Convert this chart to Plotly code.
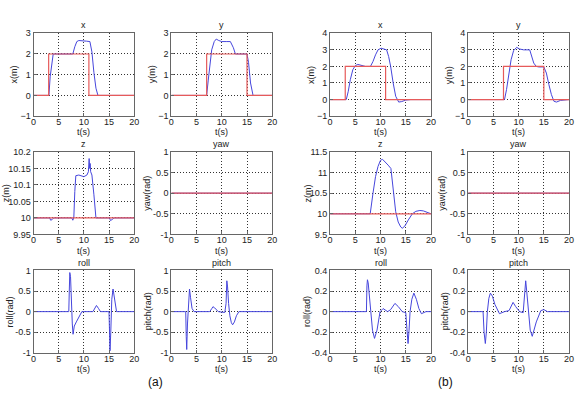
import plotly.graph_objects as go

W, H = 579, 400

# ---------------- data ----------------
# (a) x
a_x_t = [0, 3.05, 3.3, 3.6, 3.9, 4.3, 7.8, 8.2, 8.6, 9.0, 9.9, 10.5, 11.2, 11.6, 12.0, 12.4, 12.8, 20]
a_x_v = [0, 0, 0.9, 1.6, 2.0, 2.0, 2.0, 2.35, 2.6, 2.65, 2.65, 2.62, 2.6, 2.1, 1.1, 0.35, 0, 0]
a_x_ref_t = [0, 3, 3, 11, 11, 20]
a_x_ref_v = [0, 0, 2, 2, 0, 0]
# (a) y
a_y_t = [0, 7.0, 7.3, 7.6, 8.0, 8.5, 8.9, 9.4, 10, 11, 11.7, 12.3, 12.7, 15.0, 15.3, 15.7, 16.2, 20]
a_y_v = [0, 0, 0.7, 1.5, 2.2, 2.6, 2.72, 2.65, 2.6, 2.6, 2.6, 2.3, 2.0, 2.0, 1.6, 0.6, 0, 0]
a_y_ref_t = [0, 7, 7, 15, 15, 20]
a_y_ref_v = [0, 0, 2, 2, 0, 0]
# (a) z
a_z_t = [0, 3.2, 3.4, 3.7, 4.0, 7.6, 7.8, 8.0, 8.2, 8.4, 9, 10, 10.6, 10.9, 11.05, 11.15, 11.25, 11.35, 11.45, 11.6, 12.0, 12.4, 15.1, 15.3, 15.6, 16.0, 20]
a_z_v = [10, 10, 9.993, 9.995, 10, 10, 9.993, 10.0, 10.08, 10.128, 10.13, 10.125, 10.13, 10.14, 10.18, 10.15, 10.165, 10.14, 10.135, 10.13, 10.07, 10, 10, 9.992, 9.995, 10, 10]
a_z_ref_t = [0, 20]
a_z_ref_v = [10, 10]
# (a) yaw
a_yaw_t = [0, 20]
a_yaw_v = [0, 0]
a_yaw_ref_t = [0, 20]
a_yaw_ref_v = [0, 0]
# (a) roll
a_roll_t = [0, 7.0, 7.1, 7.2, 7.35, 7.5, 7.7, 7.85, 8.1, 8.5, 9.0, 9.6, 11.8, 12.2, 12.5, 12.9, 13.3, 15.0, 15.1, 15.2, 15.35, 15.55, 15.8, 16.1, 16.5, 20]
a_roll_v = [0, 0, 0.5, 0.95, 0.85, 0.2, -0.3, -0.55, -0.35, -0.25, -0.12, 0, 0, 0.1, 0.15, 0.08, 0, 0, -0.4, -0.95, -0.5, 0.3, 0.55, 0.3, 0, 0]
# (a) pitch
a_pitch_t = [0, 2.85, 2.95, 3.05, 3.2, 3.4, 3.6, 3.8, 4.1, 4.5, 7.6, 8.0, 8.25, 8.6, 9.0, 9.3, 10.6, 10.85, 11.0, 11.15, 11.35, 11.6, 11.9, 12.15, 12.5, 12.9, 13.4, 20]
a_pitch_v = [0, 0, -0.6, -0.92, -0.3, 0.35, 0.55, 0.35, 0.08, 0, 0, 0.07, 0.12, 0.09, 0.03, 0, -0.02, 0.2, 0.75, 0.6, 0.2, -0.1, -0.27, -0.32, -0.25, -0.1, 0, 0]

# (b) x
b_x_t = [0, 3.2, 3.6, 4.0, 4.5, 5.0, 5.5, 6.2, 7.0, 8.0, 8.5, 9.0, 9.5, 10.1, 10.6, 11.2, 11.6, 12.0, 12.5, 13.0, 13.6, 14.2, 15.0, 16, 20]
b_x_v = [0, 0, 0.5, 1.2, 1.8, 2.05, 2.12, 2.05, 2.0, 2.0, 2.3, 2.7, 3.0, 3.1, 3.05, 3.0, 2.6, 2.0, 1.0, 0.2, -0.15, -0.12, -0.03, 0, 0]
b_x_ref_t = [0, 3, 3, 11, 11, 20]
b_x_ref_v = [0, 0, 2, 2, 0, 0]
# (b) y
b_y_t = [0, 7.2, 7.6, 8.0, 8.5, 9.0, 9.6, 10.2, 11, 12.2, 12.6, 13.0, 13.5, 14.0, 15.0, 15.5, 16.0, 16.5, 17.0, 17.5, 18.3, 20]
b_y_v = [0, 0, 0.6, 1.5, 2.4, 2.95, 3.15, 3.05, 3.0, 3.0, 2.6, 2.2, 2.0, 1.97, 1.97, 1.6, 0.9, 0.3, -0.1, -0.15, -0.05, 0]
b_y_ref_t = [0, 7, 7, 15, 15, 20]
b_y_ref_v = [0, 0, 2, 2, 0, 0]
# (b) z
b_z_t = [0, 7.95, 8.5, 9.0, 9.5, 10.0, 10.4, 11.0, 11.5, 12.05, 12.5, 13.0, 13.5, 14.0, 14.3, 14.8, 15.5, 16.3, 17.0, 17.8, 18.5, 19.3, 20]
b_z_v = [10, 10, 10.5, 10.9, 11.15, 11.3, 11.32, 11.25, 11.18, 11.1, 10.6, 10.05, 9.8, 9.68, 9.65, 9.7, 9.85, 10.0, 10.06, 10.08, 10.07, 10.03, 10.0]
b_z_ref_t = [0, 20]
b_z_ref_v = [10, 10]
# (b) yaw
b_yaw_t = [0, 20]
b_yaw_v = [0, 0]
b_yaw_ref_t = [0, 20]
b_yaw_ref_v = [0, 0]
# (b) roll
b_roll_t = [0, 7.2, 7.3, 7.4, 7.55, 7.75, 8.0, 8.4, 8.8, 9.3, 9.9, 10.5, 11.4, 12.0, 12.85, 13.5, 14.3, 15.0, 15.2, 15.45, 15.65, 15.85, 16.2, 16.6, 17.1, 17.6, 18.1, 19.0, 20]
b_roll_v = [0, 0, 0.25, 0.31, 0.28, 0.15, 0.0, -0.18, -0.26, -0.18, 0.0, 0.03, 0.0, 0.02, 0.08, 0.05, 0.0, -0.01, -0.15, -0.31, -0.18, 0.0, 0.12, 0.18, 0.12, 0.03, -0.02, 0.0, 0.0]
# (b) pitch
b_pitch_t = [0, 2.95, 3.15, 3.4, 3.6, 3.8, 4.1, 4.4, 4.8, 5.3, 6.2, 7.2, 8.1, 8.5, 8.9, 9.4, 10.2, 10.9, 11.15, 11.4, 11.6, 11.9, 12.3, 12.7, 13.1, 13.5, 14.4, 15.0, 15.7, 20]
b_pitch_v = [0, 0, -0.2, -0.31, -0.2, 0.0, 0.13, 0.18, 0.15, 0.07, -0.02, 0.0, 0.01, 0.06, 0.09, 0.05, 0.0, -0.01, 0.15, 0.3, 0.2, 0.0, -0.18, -0.24, -0.18, -0.1, 0.01, 0.02, 0.0, 0.0]

x_ticks = [0, 5, 10, 15, 20]
yt_xy_a = [-1, 0, 1, 2, 3]
yt_xy_b = [-1, 0, 1, 2, 3, 4]
yt_z_a = [9.95, 10, 10.05, 10.1, 10.15, 10.2]
yt_z_a_text = ["9.95", "10", "10.05", "10.1", "10.15", "10.2"]
yt_z_b = [9.5, 10, 10.5, 11, 11.5]
yt_z_b_text = ["9.5", "10", "10.5", "11", "11.5"]
yt_unit = [-1, -0.5, 0, 0.5, 1]
yt_unit_text = ["-1", "-0.5", "0", "0.5", "1"]
yt_small = [-0.4, -0.2, 0, 0.2, 0.4]
yt_small_text = ["-0.4", "-0.2", "0", "0.2", "0.4"]

# ---------------- layout geometry (pixels) ----------------
cols = [(31, 133), (170.7, 273), (331.7, 434), (471.7, 574)]
rows = [(29, 114), (150.7, 235.3), (272.3, 356.7)]

BLUE = "#4646dc"
RED = "#e65a5a"
FONT = "Liberation Sans, Arial, sans-serif"

panels = [
    (0, 0, "x", "x(m)", a_x_t, a_x_v, a_x_ref_t, a_x_ref_v, [-1, 3], yt_xy_a, None, 20),
    (0, 1, "y", "y(m)", a_y_t, a_y_v, a_y_ref_t, a_y_ref_v, [-1, 3], yt_xy_a, None, 20),
    (0, 2, "x", "x(m)", b_x_t, b_x_v, b_x_ref_t, b_x_ref_v, [-1, 4], yt_xy_b, None, 20),
    (0, 3, "y", "y(m)", b_y_t, b_y_v, b_y_ref_t, b_y_ref_v, [-1, 4], yt_xy_b, None, 20),
    (1, 0, "z", "z(m)", a_z_t, a_z_v, a_z_ref_t, a_z_ref_v, [9.95, 10.2], yt_z_a, yt_z_a_text, 28),
    (1, 1, "yaw", "yaw(rad)", a_yaw_t, a_yaw_v, a_yaw_ref_t, a_yaw_ref_v, [-1, 1], yt_unit, yt_unit_text, 24),
    (1, 2, "z", "z(m)", b_z_t, b_z_v, b_z_ref_t, b_z_ref_v, [9.5, 11.5], yt_z_b, yt_z_b_text, 22),
    (1, 3, "yaw", "yaw(rad)", b_yaw_t, b_yaw_v, b_yaw_ref_t, b_yaw_ref_v, [-1, 1], yt_unit, yt_unit_text, 26),
    (2, 0, "roll", "roll(rad)", a_roll_t, a_roll_v, None, None, [-1, 1], yt_unit, yt_unit_text, 24),
    (2, 1, "pitch", "pitch(rad)", a_pitch_t, a_pitch_v, None, None, [-1, 1], yt_unit, yt_unit_text, 24),
    (2, 2, "roll", "roll(rad)", b_roll_t, b_roll_v, None, None, [-0.4, 0.4], yt_small, yt_small_text, 24),
    (2, 3, "pitch", "pitch(rad)", b_pitch_t, b_pitch_v, None, None, [-0.4, 0.4], yt_small, yt_small_text, 24),
]

fig = go.Figure()
annotations = []
layout_axes = {}

def px(x):
    return x / W

def py(y):
    return 1 - y / H

for i, (r, c, title, ylab, bt, bv, rt, rv, yr, ytv, ytt, yoff) in enumerate(panels):
    n = i + 1
    xa = "x" if n == 1 else f"x{n}"
    ya = "y" if n == 1 else f"y{n}"
    x0, x1 = cols[c]
    y0, y1 = rows[r]
    common = dict(
        showgrid=True, gridcolor="#333", griddash="1px,2px", gridwidth=1,
        showline=True, linecolor="#666", linewidth=1, mirror=True,
        ticks="inside", ticklen=3, tickcolor="#666",
        tickfont=dict(family=FONT, size=9, color="#222"),
        zeroline=False, fixedrange=True,
    )
    layout_axes[("xaxis" if n == 1 else f"xaxis{n}")] = dict(
        domain=[px(x0), px(x1)], anchor=ya, range=[0, 20],
        tickvals=x_ticks, ticklabelstandoff=-3, **common)
    yax = dict(domain=[py(y1), py(y0)], anchor=xa, range=yr, tickvals=ytv, **common)
    if ytt is not None:
        yax["ticktext"] = ytt
    layout_axes[("yaxis" if n == 1 else f"yaxis{n}")] = yax

    fig.add_trace(go.Scatter(x=bt, y=bv, mode="lines", line=dict(color=BLUE, width=1),
                             xaxis=xa, yaxis=ya, showlegend=False, hoverinfo="skip"))
    if rt is not None:
        fig.add_trace(go.Scatter(x=rt, y=rv, mode="lines", line=dict(color=RED, width=1.2),
                                 xaxis=xa, yaxis=ya, showlegend=False, hoverinfo="skip"))

    cx = (x0 + x1) / 2
    annotations.append(dict(text=title, x=px(cx), y=py(y0 - 8), xref="paper", yref="paper",
                            showarrow=False, xanchor="center", yanchor="middle",
                            font=dict(family=FONT, size=9, color="#222")))
    xl_off = 16 if r == 0 else 17
    annotations.append(dict(text="t(s)", x=px(cx), y=py(y1 + xl_off), xref="paper", yref="paper",
                            showarrow=False, xanchor="center", yanchor="middle",
                            font=dict(family=FONT, size=9, color="#222")))
    annotations.append(dict(text=ylab, x=px(x0 - yoff), y=py((y0 + y1) / 2), xref="paper", yref="paper",
                            showarrow=False, xanchor="center", yanchor="middle", textangle=-90,
                            font=dict(family=FONT, size=9, color="#222")))

annotations.append(dict(text="(a)", x=px(155), y=py(387), xref="paper", yref="paper", showarrow=False,
                        xanchor="center", yanchor="middle", font=dict(family=FONT, size=12, color="#111")))
annotations.append(dict(text="(b)", x=px(449), y=py(387), xref="paper", yref="paper", showarrow=False,
                        xanchor="center", yanchor="middle", font=dict(family=FONT, size=12, color="#111")))

fig.update_layout(width=W, height=H, margin=dict(l=0, r=0, t=0, b=0),
                  paper_bgcolor="white", plot_bgcolor="white",
                  annotations=annotations, showlegend=False, **layout_axes)

fig.write_html("out.html", config={"displayModeBar": False})
